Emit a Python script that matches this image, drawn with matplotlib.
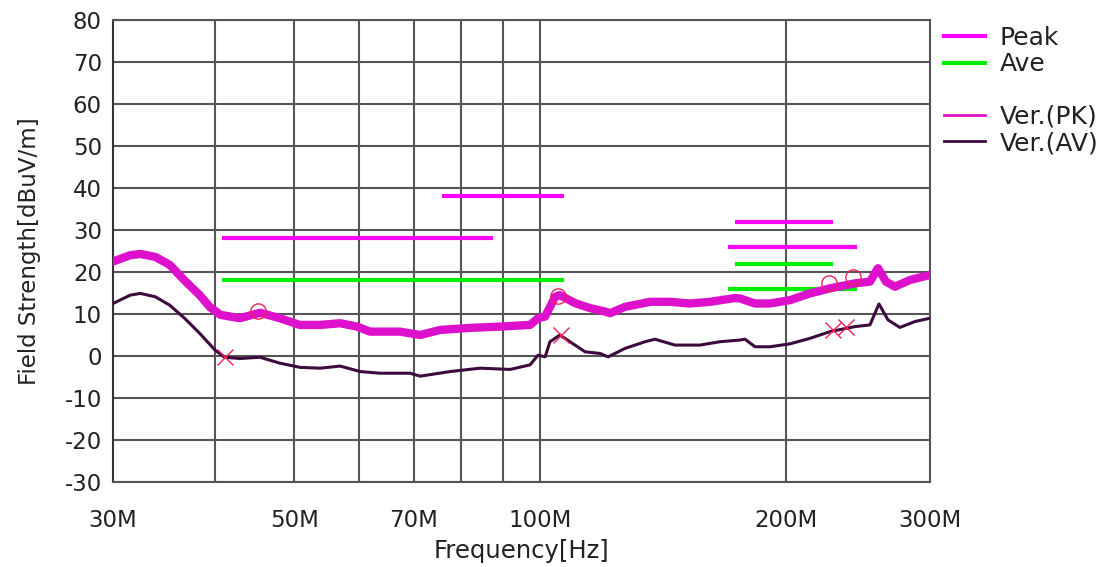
import matplotlib
matplotlib.use("Agg")
import matplotlib.pyplot as plt
from matplotlib.lines import Line2D

# ---- data (MHz, dBuV/m)

pk_freq = [30.0, 31.5, 32.4, 33.8, 35.2, 36.7, 38.3, 39.4, 40.6, 42.9, 45.4, 48.0,
           50.8, 53.8, 56.9, 59.7, 61.9, 67.4, 71.3, 75.4, 82.1, 89.3, 97.2, 99.4,
           101.4, 104.3, 105.7, 110.3, 115.1, 120.0, 121.8, 127.0, 136.3, 144.2,
           152.5, 161.4, 173.2, 175.6, 183.2, 191.1, 202.2, 213.9, 226.3, 242.8,
           253.3, 259.1, 265.0, 271.8, 283.5, 300.0]
pk_level = [22.5, 24.0, 24.3, 23.6, 21.7, 18.0, 14.5, 11.7, 9.8, 9.0, 10.3, 9.0,
            7.4, 7.4, 7.8, 7.0, 5.8, 5.8, 5.0, 6.2, 6.7, 7.0, 7.4, 9.0,
            9.4, 14.1, 14.5, 12.6, 11.4, 10.6, 10.2, 11.7, 12.9, 12.9,
            12.5, 12.9, 13.8, 13.7, 12.5, 12.5, 13.3, 14.9, 16.1, 17.3,
            17.7, 20.9, 17.7, 16.5, 18.1, 19.3]

av_freq = [30.0, 31.5, 32.4, 33.8, 35.2, 36.7, 38.3, 40.0, 41.1, 42.9, 45.4, 48.0,
           50.8, 53.8, 56.9, 60.2, 63.7, 69.3, 71.3, 77.6, 84.4, 91.9, 97.2, 99.4,
           101.4, 102.8, 105.7, 110.3, 113.5, 118.4, 121.1, 127.0, 134.4, 138.2,
           146.2, 156.9, 166.0, 175.6, 178.1, 183.2, 191.1, 202.2, 213.9, 226.3,
           242.8, 253.3, 259.8, 266.5, 275.6, 287.5, 300.0]
av_level = [12.5, 14.5, 14.9, 14.1, 12.1, 9.0, 5.4, 1.4, -0.3, -0.6, -0.3, -1.7,
            -2.7, -2.9, -2.4, -3.7, -4.1, -4.1, -4.8, -3.7, -2.9, -3.2, -2.1, 0.2,
            -0.2, 3.4, 5.0, 2.6, 1.0, 0.6, -0.2, 1.8, 3.4, 4.0,
            2.6, 2.6, 3.4, 3.8, 4.0, 2.2, 2.2, 2.9, 4.2, 5.8,
            7.0, 7.4, 12.4, 8.6, 6.8, 8.2, 9.0]

# limit lines: start, stop, level
peak_lim_start = [40.8, 75.8, 173.0, 170.0]
peak_lim_stop = [87.5, 107.0, 228.0, 244.0]
peak_lim_level = [28, 38, 32, 26]
ave_lim_start = [40.8, 173.0, 170.0]
ave_lim_stop = [107.0, 228.0, 244.0]
ave_lim_level = [18, 22, 16]

# marked points
pk_mark_freq = [45.1, 105.2, 226.0, 241.7]
pk_mark_level = [10.7, 14.3, 17.4, 18.8]
av_mark_freq = [41.1, 106.0, 228.0, 237.0]
av_mark_level = [-0.2, 5.0, 6.2, 7.0]

xtick_vals = [30, 50, 70, 100, 200, 300]
xtick_labels = ["30M", "50M", "70M", "100M", "200M", "300M"]
xgrid_vals = [40, 50, 60, 70, 80, 90, 100, 200]
yticks = list(range(-30, 81, 10))

PEAK_LIM = "#ff00ff"
AVE_LIM = "#00ee00"
PK_TRACE = "#dd11cc"
AV_TRACE = "#3c0a3c"
MARK = "#ee2255"
GRID = "#555555"
TXT = "#222222"

plt.rcParams['font.family'] = 'DejaVu Sans'
plt.rcParams['axes.unicode_minus'] = False

fig = plt.figure(figsize=(11.07, 5.67), dpi=100)
ax = fig.add_axes([113/1107, 1-482/567, (930-113)/1107, (482-20)/567])

ax.set_xscale('log')
ax.set_xlim(30, 300)
ax.set_ylim(-30, 80)

# grid
for g in xgrid_vals:
    ax.axvline(g, color=GRID, lw=1.5, zorder=1)
for v in yticks:
    ax.axhline(v, color=GRID, lw=1.5, zorder=1)

# limits
for s, e, l in zip(peak_lim_start, peak_lim_stop, peak_lim_level):
    ax.plot([s, e], [l, l], color=PEAK_LIM, lw=3, solid_capstyle='butt', zorder=2)
for s, e, l in zip(ave_lim_start, ave_lim_stop, ave_lim_level):
    ax.plot([s, e], [l, l], color=AVE_LIM, lw=3, solid_capstyle='butt', zorder=2)

# traces
ax.plot(pk_freq, pk_level, color=PK_TRACE, lw=6, zorder=3)
ax.plot(av_freq, av_level, color=AV_TRACE, lw=2.2, zorder=3)

ax.plot(pk_mark_freq, pk_mark_level, 'o', ms=11, mfc='none', mec=MARK, mew=1, zorder=4)
ax.plot(av_mark_freq, av_mark_level, 'x', ms=11, color=MARK, mew=1, zorder=4)

ax.set_xticks(xtick_vals)
ax.set_xticklabels(xtick_labels)
ax.minorticks_off()
ax.set_yticks(yticks)
ax.tick_params(axis='both', length=0, labelsize=16.5, colors=TXT)
ax.tick_params(axis='x', pad=19.5)
ax.tick_params(axis='y', pad=8)

for sp in ax.spines.values():
    sp.set_color(GRID)
    sp.set_linewidth(1.5)
ax.spines['left'].set_color('#333333')

ax.set_xlabel("Frequency[Hz]", fontsize=17.5, color=TXT)
ax.xaxis.set_label_coords(0.5, -0.124)
ax.set_ylabel("Field Strength[dBuV/m]", fontsize=16.5, color=TXT, labelpad=17)

handles = [Line2D([], [], color=PEAK_LIM, lw=3),
           Line2D([], [], color=AVE_LIM, lw=3),
           Line2D([], [], color='none'),
           Line2D([], [], color=PK_TRACE, lw=2),
           Line2D([], [], color=AV_TRACE, lw=2)]
labels = ["Peak", "Ave", "", "Ver.(PK)", "Ver.(AV)"]
fig.legend(handles, labels, loc='upper left', bbox_to_anchor=(944/1107, 1-26/567),
           frameon=False, fontsize=18, handlelength=1.64, handletextpad=0.6,
           labelspacing=0.09, borderaxespad=0, borderpad=0, labelcolor=TXT)

fig.savefig("out.png", dpi=100)
